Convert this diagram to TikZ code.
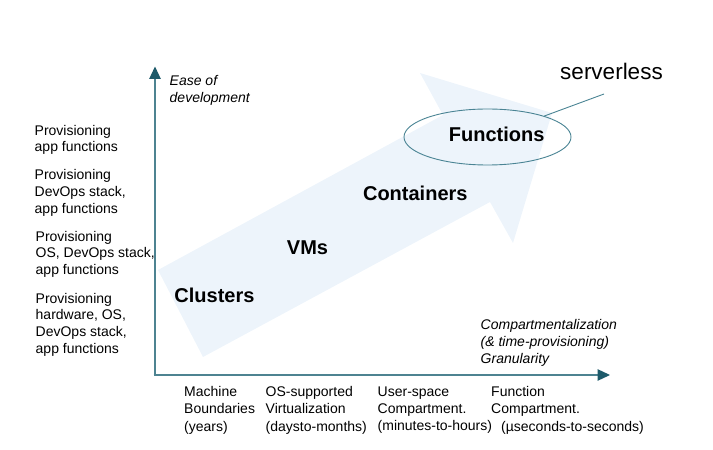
\documentclass[tikz,border=0pt]{standalone}
\usepackage{fontspec}
\setmainfont{Liberation Sans}
\usetikzlibrary{arrows.meta,shapes.geometric}
\definecolor{arrowfill}{HTML}{EDF4FB}
\definecolor{axisline}{HTML}{4D8391}
\definecolor{axishead}{HTML}{1D5A6A}
\definecolor{ellline}{HTML}{4A8494}
\tikzset{
  smalltxt/.style={inner sep=0pt,anchor=north west,align=left,font=\fontsize{14bp}{16.7bp}\selectfont},
  bottomtxt/.style={smalltxt,font=\fontsize{14bp}{17.1bp}\selectfont},
  itxt/.style={inner sep=0pt,anchor=north west,align=left,font=\fontsize{14bp}{17bp}\selectfont\itshape},
  bigtxt/.style={inner sep=0pt,anchor=base,font=\fontsize{20bp}{24bp}\selectfont\bfseries},
  axis/.style={draw=axisline,line width=1.2bp,-{Triangle[length=12.5bp,width=11.5bp,color=axishead]}},
}
\begin{document}
\begin{tikzpicture}[x=1bp,y=-1bp]
\useasboundingbox (0,0) rectangle (713,450);
% big arrow
\fill[arrowfill] (158,270) -- (443,115) -- (420,73) -- (552,113) -- (513,243) -- (490,202) -- (203,357) -- cycle;
% axes
\coordinate (origin) at (155,375);
\coordinate (ytip) at (155,66.5);
\coordinate (xtip) at (610,375);
\draw[axis] (origin) -- (ytip);
\draw[axis] (153.5,375) -- (xtip);
% left labels
\node[smalltxt] (p1) at (34.5,124.8) {Provisioning\\app functions};
\node[smalltxt] (p2) at (34.5,169.6) {Provisioning\\DevOps stack,\\app functions};
\node[smalltxt] (p3) at (35.5,230.8) {Provisioning\\OS, DevOps stack,\\app functions};
\node[smalltxt] (p4) at (35.5,292.8) {Provisioning\\hardware, OS,\\DevOps stack,\\app functions};
% y axis label
\node[itxt] (ease) at (169.5,74.8) {Ease of\\development};
% x axis label
\node[itxt] (gran) at (480.5,319) {Compartmentalization\\(\& time-provisioning)\\Granularity};
% bottom labels
\node[bottomtxt] (b1) at (184,386.5) {Machine\\Boundaries\\(years)};
\node[bottomtxt] (b2) at (265.5,386.5) {OS-supported\\Virtualization\\(daysto-months)};
\node[bottomtxt] (b3) at (377.5,386.5) {User-space\\Compartment.\\(minutes-to-hours)};
\node[bottomtxt] (b4) at (491,386.5) {Function\\Compartment.\\\hspace*{10bp}(µseconds-to-seconds)};
% big labels
\node[bigtxt] (clusters) at (214.5,303) {Clusters};
\node[bigtxt] (vms) at (307.5,255) {VMs};
\node[bigtxt] (containers) at (415.3,200.7) {Containers};
% ellipse and functions
\node[draw=ellline,line width=0.9bp,ellipse,minimum width=167bp,minimum height=56bp,inner sep=0pt] (ell) at (487.5,137) {};
\node[bigtxt] (functions) at (496.7,142) {Functions};
% serverless
\node[inner sep=0pt,anchor=base,font=\fontsize{22.5bp}{27bp}\selectfont] (serverless) at (611.5,80) {serverless};
\coordinate (servend) at (604,94);
\draw[ellline,line width=0.9bp] (servend) -- (ell);
\end{tikzpicture}
\end{document}
